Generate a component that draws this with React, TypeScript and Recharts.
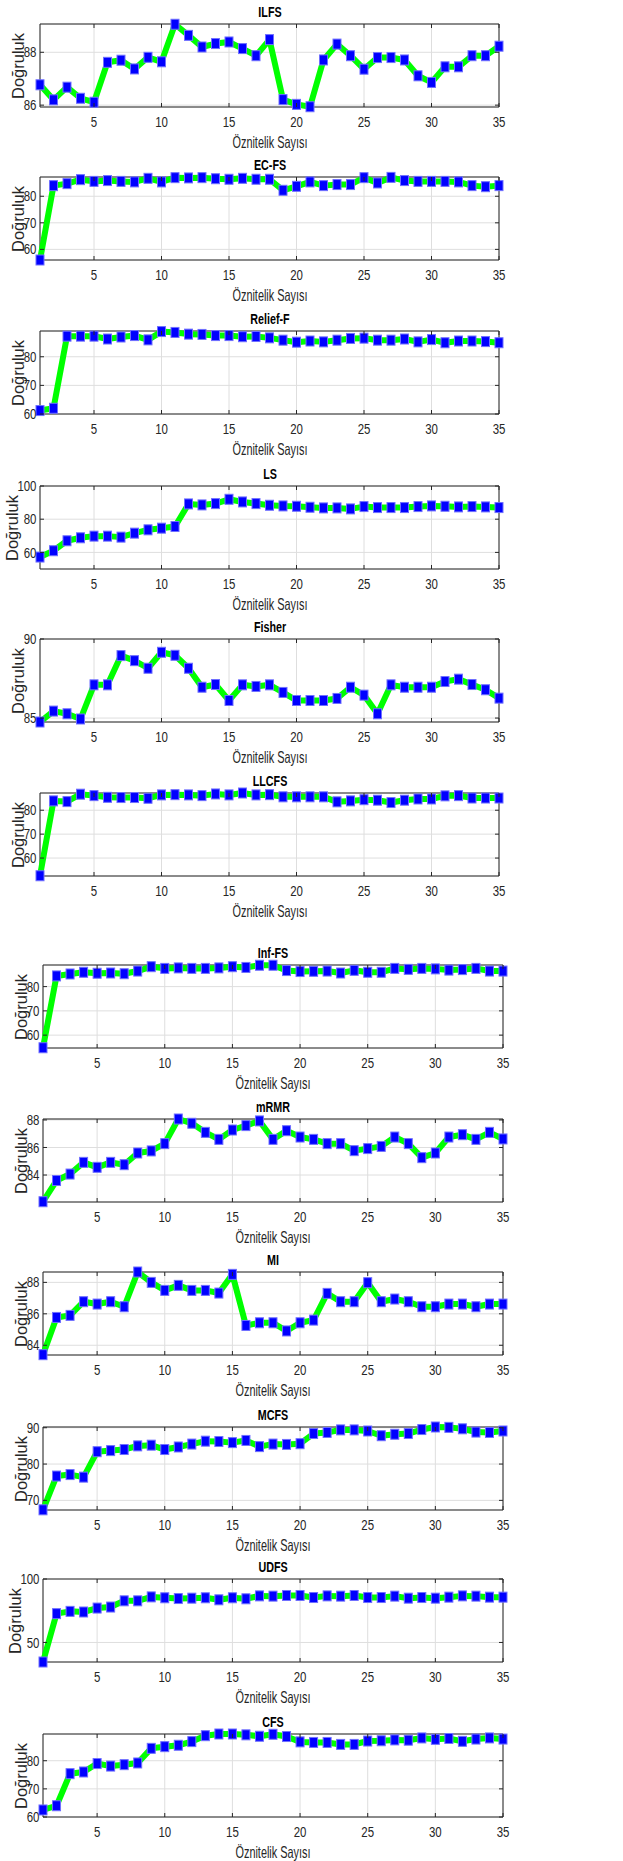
import React from 'react'
import { LineChart, Line, XAxis, YAxis, CartesianGrid, ReferenceArea } from 'recharts'

// x axis: number of features
const featureCounts = [1, 2, 3, 4, 5, 6, 7, 8, 9, 10, 11, 12, 13, 14, 15, 16, 17, 18, 19, 20, 21, 22, 23, 24, 25, 26, 27, 28, 29, 30, 31, 32, 33, 34, 35]
const xTicks = [5, 10, 15, 20, 25, 30, 35]

// accuracy per method
const ilfs = [86.77, 86.2, 86.68, 86.26, 86.11, 87.62, 87.7, 87.37, 87.81, 87.64, 89.06, 88.64, 88.2, 88.33, 88.39, 88.14, 87.87, 88.48, 86.21, 86.03, 85.94, 87.71, 88.31, 87.87, 87.36, 87.8, 87.8, 87.71, 87.11, 86.86, 87.45, 87.45, 87.87, 87.87, 88.23]
const ecfs = [56.0, 84.0, 84.75, 86.25, 85.6, 85.9, 85.6, 85.4, 86.75, 85.4, 87.0, 86.9, 87.0, 86.6, 86.4, 86.75, 86.4, 86.4, 82.25, 83.75, 85.4, 84.0, 84.4, 84.4, 87.0, 85.0, 87.1, 85.9, 85.6, 85.6, 85.6, 85.4, 84.0, 83.6, 84.0]
const reliefF = [61.2, 62.0, 87.2, 87.2, 87.2, 86.2, 86.9, 87.4, 85.9, 88.8, 88.5, 87.9, 87.8, 87.4, 87.4, 87.0, 87.1, 86.6, 85.8, 85.1, 85.5, 85.2, 85.8, 86.4, 86.5, 85.8, 85.8, 86.2, 85.2, 86.0, 84.9, 85.5, 85.5, 85.3, 84.9]
const ls = [57.2, 61.0, 67.0, 68.8, 69.8, 69.8, 69.2, 71.6, 73.6, 74.6, 75.6, 89.2, 88.6, 89.4, 92.0, 90.4, 89.4, 88.4, 88.0, 87.8, 87.2, 86.8, 86.8, 86.2, 87.6, 87.0, 87.0, 87.0, 87.6, 88.0, 87.8, 87.4, 87.6, 87.4, 87.0]
const fisher = [84.75, 85.44, 85.27, 84.94, 87.1, 87.1, 88.95, 88.63, 88.15, 89.16, 88.97, 88.15, 86.95, 87.12, 86.11, 87.1, 87.0, 87.1, 86.62, 86.11, 86.11, 86.11, 86.24, 86.95, 86.45, 85.27, 87.1, 86.95, 86.95, 86.95, 87.31, 87.46, 87.12, 86.79, 86.26]
const llcfs = [52.6, 83.9, 83.6, 86.7, 86.1, 85.4, 85.3, 85.3, 85.0, 86.4, 86.5, 86.4, 86.1, 86.8, 86.4, 87.2, 86.4, 86.5, 85.6, 85.6, 85.6, 85.6, 83.5, 83.9, 84.4, 84.2, 83.2, 84.2, 84.7, 84.7, 86.0, 86.1, 85.1, 85.1, 85.1]
const infFs = [54.8, 84.4, 85.2, 85.9, 85.5, 85.6, 85.3, 86.4, 88.2, 87.5, 87.7, 87.5, 87.5, 87.7, 88.2, 87.9, 88.8, 88.8, 86.6, 86.2, 86.3, 86.4, 85.6, 86.7, 85.9, 85.9, 87.5, 87.1, 87.5, 87.3, 86.8, 87.0, 87.5, 86.4, 86.4]
const mrmr = [82.06, 83.6, 84.07, 84.92, 84.56, 84.92, 84.75, 85.6, 85.75, 86.28, 88.07, 87.76, 87.1, 86.59, 87.27, 87.59, 87.93, 86.59, 87.22, 86.76, 86.59, 86.28, 86.28, 85.77, 85.92, 86.08, 86.76, 86.28, 85.26, 85.6, 86.76, 86.93, 86.59, 87.1, 86.62]
const mi = [83.4, 85.77, 85.9, 86.77, 86.62, 86.77, 86.45, 88.66, 88.0, 87.49, 87.81, 87.49, 87.49, 87.32, 88.51, 85.26, 85.43, 85.43, 84.91, 85.43, 85.6, 87.3, 86.77, 86.77, 87.98, 86.77, 86.94, 86.77, 86.45, 86.45, 86.62, 86.62, 86.45, 86.62, 86.62]
const mcfs = [67.4, 76.7, 77.1, 76.4, 83.4, 83.7, 84.0, 85.0, 85.2, 84.0, 84.7, 85.5, 86.3, 86.2, 85.9, 86.5, 84.8, 85.5, 85.4, 85.6, 88.4, 88.7, 89.4, 89.4, 89.1, 87.8, 88.2, 88.4, 89.5, 90.2, 90.1, 89.7, 88.8, 88.7, 89.1]
const udfs = [34.6, 72.7, 74.5, 74.0, 77.1, 77.9, 82.8, 82.8, 85.9, 85.2, 84.6, 84.9, 85.2, 83.6, 85.2, 84.4, 86.7, 86.5, 87.0, 87.0, 85.4, 86.7, 86.5, 87.0, 85.4, 85.4, 86.5, 84.9, 85.4, 84.9, 85.7, 86.7, 86.5, 85.7, 85.7]
const cfs = [62.5, 64.0, 75.4, 76.0, 79.0, 78.1, 78.6, 79.2, 84.4, 85.0, 85.5, 86.8, 88.9, 89.5, 89.5, 89.2, 88.7, 89.4, 88.6, 86.7, 86.5, 86.5, 85.8, 85.8, 87.0, 87.1, 87.4, 87.3, 88.1, 87.6, 87.9, 86.9, 87.7, 88.1, 87.7]

// y tick labels per panel
const ticks86 = [86, 88]
const ticks60to80 = [60, 70, 80]
const ticksLs = [60, 80, 100]
const ticksFisher = [85, 90]
const ticks84 = [84, 86, 88]
const ticksMcfs = [70, 80, 90]
const ticksUdfs = [50, 100]

const panels = [
  { title: 'ILFS', values: ilfs, yTicks: ticks86, yDomain: [85.93, 89.07] },
  { title: 'EC-FS', values: ecfs, yTicks: ticks60to80, yDomain: [56, 87.25] },
  { title: 'Relief-F', values: reliefF, yTicks: ticks60to80, yDomain: [60, 89] },
  { title: 'LS', values: ls, yTicks: ticksLs, yDomain: [50, 100] },
  { title: 'Fisher', values: fisher, yTicks: ticksFisher, yDomain: [84.75, 90] },
  { title: 'LLCFS', values: llcfs, yTicks: ticks60to80, yDomain: [52.5, 87.2] },
  { title: 'Inf-FS', values: infFs, yTicks: ticks60to80, yDomain: [54.7, 88.9] },
  { title: 'mRMR', values: mrmr, yTicks: ticks84, yDomain: [82.04, 88.07] },
  { title: 'MI', values: mi, yTicks: ticks84, yDomain: [83.38, 88.66] },
  { title: 'MCFS', values: mcfs, yTicks: ticksMcfs, yDomain: [67.35, 90.2] },
  { title: 'UDFS', values: udfs, yTicks: ticksUdfs, yDomain: [34.6, 100] },
  { title: 'CFS', values: cfs, yTicks: ticks60to80, yDomain: [60, 89.5] },
]

// page layout (px)
const plotTops = [24, 177, 331, 486, 639, 793, 965, 1119, 1272, 1427, 1579, 1734]
const PLOT_H = 83
const MT = 22
const XAXIS_H = 30
const TICK_LEN = 4
const SQUEEZE = 0.74 // matlab export looks horizontally condensed
const INK = '#262626'
const SANS = "'Liberation Sans', Arial, sans-serif"

const Marker = (props: any) => {
  const { cx, cy, index } = props
  if (cx == null || cy == null) return <g key={`m-${index}`} />
  return (
    <rect key={`m-${index}`} x={cx - 4} y={cy - 5} width={8} height={10}
      fill="#0000ff" stroke="#6f6fff" strokeWidth={1} />
  )
}

const Panel = ({ idx }: { idx: number }) => {
  const p = panels[idx]
  const top = plotTops[idx]
  const left = idx < 6 ? 40 : 43
  const right = idx < 6 ? 499 : 503
  const data = featureCounts.map((f, i) => ({ f, v: p.values[i] }))
  const wide = p.yTicks.some(t => t >= 100)

  const XTick = (props: any) => {
    const { x, payload } = props
    return (
      <g>
        <line x1={x} x2={x} y1={MT} y2={MT + TICK_LEN} stroke={INK} />
        <line x1={x} x2={x} y1={MT + PLOT_H} y2={MT + PLOT_H - TICK_LEN} stroke={INK} />
        <text transform={`translate(${x},${MT + PLOT_H + 15}) scale(${SQUEEZE},1)`}
          textAnchor="middle" dominantBaseline="central"
          style={{ fontFamily: SANS, fontSize: 15.5, fill: INK }}>{payload.value}</text>
      </g>
    )
  }

  const YTick = (props: any) => {
    const { y, payload } = props
    return (
      <g>
        <line x1={left} x2={left + TICK_LEN} y1={y} y2={y} stroke={INK} />
        <line x1={right} x2={right - TICK_LEN} y1={y} y2={y} stroke={INK} />
        <text transform={`translate(${left - 3.5},${y}) scale(${SQUEEZE},1)`}
          textAnchor="end" dominantBaseline="central"
          style={{ fontFamily: SANS, fontSize: 15.5, fill: INK }}>{payload.value}</text>
      </g>
    )
  }

  const midX = (left + right) / 2

  return (
    <>
      <div style={{ position: 'absolute', left: 0, top: top - MT }}>
        <LineChart width={623} height={MT + PLOT_H + XAXIS_H} data={data}
          margin={{ top: MT, right: 623 - right, bottom: 0, left: 0 }}>
          <CartesianGrid stroke="#dedede" />
          <XAxis dataKey="f" type="number" domain={[1, 35]} ticks={xTicks} interval={0}
            height={XAXIS_H} axisLine={false} tickLine={false} tick={XTick} />
          <YAxis type="number" domain={p.yDomain} ticks={p.yTicks} interval={0}
            width={left} axisLine={false} tickLine={false} tick={YTick} />
          <ReferenceArea x1={1} x2={35} y1={p.yDomain[0]} y2={p.yDomain[1]}
            fill="none" fillOpacity={0} stroke={INK} strokeWidth={1} ifOverflow="visible" />
          <Line dataKey="v" type="linear" stroke="#00ff00" strokeWidth={6}
            strokeLinejoin="round" dot={Marker} activeDot={false} isAnimationActive={false} />
        </LineChart>
      </div>
      <div style={{ position: 'absolute', left: midX, top: top - 12,
        transform: `translate(-50%, -50%) scaleX(${SQUEEZE})`,
        fontFamily: SANS, fontWeight: 'bold', fontSize: 14.5, color: '#000', whiteSpace: 'nowrap' }}>
        {p.title}
      </div>
      <div style={{ position: 'absolute', left: midX, top: top + PLOT_H + 35,
        transform: 'translate(-50%, -50%) scaleX(0.66)',
        fontFamily: SANS, fontSize: 16.5, color: INK, whiteSpace: 'nowrap' }}>
        Öznitelik Sayısı
      </div>
      <div style={{ position: 'absolute', left: left - (wide ? 28 : 22), top: top + PLOT_H / 2,
        transform: 'translate(-50%, -50%) rotate(-90deg)',
        fontFamily: SANS, fontSize: 16.5, color: INK, whiteSpace: 'nowrap' }}>
        Doğruluk
      </div>
    </>
  )
}

export default function App() {
  return (
    <div style={{ position: 'absolute', left: 0, top: 0, width: 623, height: 1861, background: '#fff' }}>
      {panels.map((_p, i) => <Panel key={i} idx={i} />)}
    </div>
  )
}
